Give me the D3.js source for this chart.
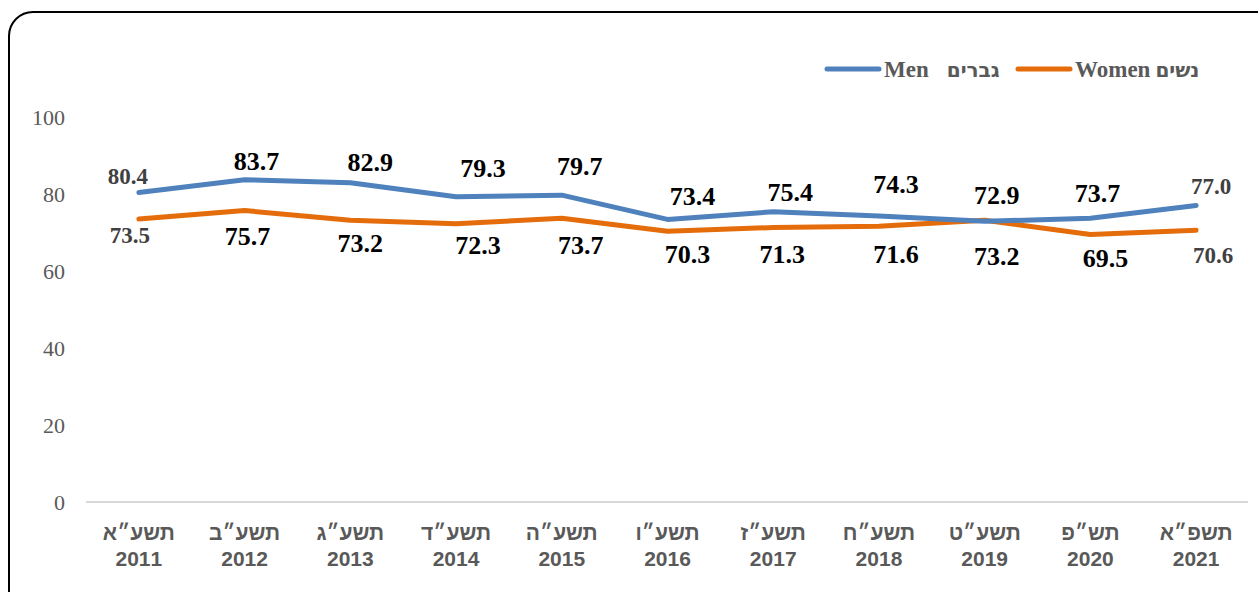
<!DOCTYPE html>
<html>
<head>
<meta charset="utf-8">
<script src="https://cdn.jsdelivr.net/npm/d3@7"></script>
<style>
  body { margin: 0; background: #fff; }
  svg { display: block; }
</style>
</head>
<body>
<svg id="chart"></svg>
<script>
// Chart data
const years = ["2011", "2012", "2013", "2014", "2015", "2016", "2017", "2018", "2019", "2020", "2021"];
const hebrewYears = ["תשע״א", "תשע״ב", "תשע״ג", "תשע״ד", "תשע״ה", "תשע״ו", "תשע״ז", "תשע״ח", "תשע״ט", "תש״פ", "תשפ״א"];
const men = [80.4, 83.7, 82.9, 79.3, 79.7, 73.4, 75.4, 74.3, 72.9, 73.7, 77.0];
const women = [73.5, 75.7, 73.2, 72.3, 73.7, 70.3, 71.3, 71.6, 73.2, 69.5, 70.6];
const yTicks = [0, 20, 40, 60, 80, 100];

// Label nudges (hand placed in the original), relative to the point
const menNudgeX = [-11, 12, 20, 27, 18, 25, 17, 17, 12, 7, 15];
const menNudgeY = [-16, -18, -20, -28, -28, -22, -19, -31, -25, -24, -20];
const womenNudgeX = [-9, 3, 10, 22, 19, 20, 9, 17, 12, 15, 17];
const womenNudgeY = [16, 26, 24, 22, 28, 24, 28, 29, 37, 25, 25];

const width = 1258, height = 592;
const blue = "#4F81BD", orange = "#E46C0A";
const serif = "'Liberation Serif', 'Times New Roman', serif";

const svg = d3.select("#chart")
    .attr("width", width)
    .attr("height", height);

// Rounded frame (runs off the right and bottom edges)
svg.append("rect")
    .attr("x", 9).attr("y", 12)
    .attr("width", 1290).attr("height", 620)
    .attr("rx", 24).attr("ry", 24)
    .attr("fill", "none")
    .attr("stroke", "#000")
    .attr("stroke-width", 2);

// Scales
const x = d3.scaleBand().domain(years).range([86, 1249]).padding(0);
const cx = d => x(d) + x.bandwidth() / 2;
const y = d3.scaleLinear().domain([0, 100]).range([502, 117]);

// Y axis (labels only)
const yAxis = svg.append("g")
    .attr("transform", "translate(86,0)")
    .call(d3.axisLeft(y).tickValues(yTicks).tickSize(0).tickPadding(21));
yAxis.attr("font-family", null).attr("font-size", null);
yAxis.select(".domain").remove();
yAxis.selectAll("text")
    .style("font-family", serif)
    .style("font-size", "22px")
    .attr("fill", "#595959");

// Baseline
svg.append("line")
    .attr("x1", x.range()[0]).attr("x2", x.range()[1] - 1)
    .attr("y1", y(0)).attr("y2", y(0))
    .attr("stroke", "#D9D9D9")
    .attr("stroke-width", 2);

// X axis labels: Hebrew year over Gregorian year
const xLabels = svg.append("g").selectAll("text")
    .data(years)
    .enter()
    .append("text")
    .attr("text-anchor", "middle")
    .attr("font-family", "'Liberation Sans', Arial, sans-serif")
    .attr("font-weight", "bold")
    .attr("font-size", 21)
    .attr("fill", "#595959");
xLabels.append("tspan")
    .attr("x", d => cx(d))
    .attr("y", 540)
    .text((d, i) => hebrewYears[i]);
xLabels.append("tspan")
    .attr("x", d => cx(d))
    .attr("y", 566)
    .text(d => d);

// Lines
const line = d3.line()
    .x((d, i) => cx(years[i]))
    .y(d => y(d));

const series = [
    { values: women, color: orange, nx: womenNudgeX, ny: womenNudgeY },
    { values: men, color: blue, nx: menNudgeX, ny: menNudgeY }
];

svg.selectAll("path.series")
    .data(series)
    .enter()
    .append("path")
    .attr("class", "series")
    .attr("d", d => line(d.values))
    .attr("fill", "none")
    .attr("stroke", d => d.color)
    .attr("stroke-width", 5)
    .attr("stroke-linejoin", "round")
    .attr("stroke-linecap", "round");

// Data labels
series.forEach(s => {
    svg.append("g").selectAll("text")
        .data(s.values)
        .enter()
        .append("text")
        .attr("text-anchor", "middle")
        .attr("x", (d, i) => cx(years[i]) + s.nx[i])
        .attr("y", (d, i) => y(d) + s.ny[i] + 8)
        .attr("font-family", serif)
        .attr("font-weight", "bold")
        .attr("font-size", (d, i) => (i === 0 || i === years.length - 1) ? 23 : 26)
        .attr("fill", (d, i) => (i === 0 || i === years.length - 1) ? "#404040" : "#000")
        .text(d => d.toFixed(1));
});

// Legend
const legendItems = [
    { en: "Men", he: "גברים", color: blue, x: 827, gap: 18 },
    { en: "Women", he: "נשים", color: orange, x: 1018, gap: 5 }
];
const legend = svg.append("g").selectAll("g")
    .data(legendItems)
    .enter()
    .append("g")
    .attr("transform", d => `translate(${d.x},69)`);
legend.append("line")
    .attr("x1", 0).attr("x2", 52)
    .attr("stroke", d => d.color)
    .attr("stroke-width", 5)
    .attr("stroke-linecap", "round");
const legendText = legend.append("text")
    .attr("x", 57)
    .attr("y", 8)
    .attr("font-weight", "bold")
    .attr("fill", "#595959");
legendText.append("tspan")
    .attr("font-family", serif)
    .attr("font-size", 23)
    .text(d => d.en);
legendText.append("tspan")
    .attr("dx", d => d.gap)
    .attr("font-family", "'DejaVu Sans', sans-serif")
    .attr("font-size", 20)
    .text(d => d.he);
</script>
</body>
</html>
